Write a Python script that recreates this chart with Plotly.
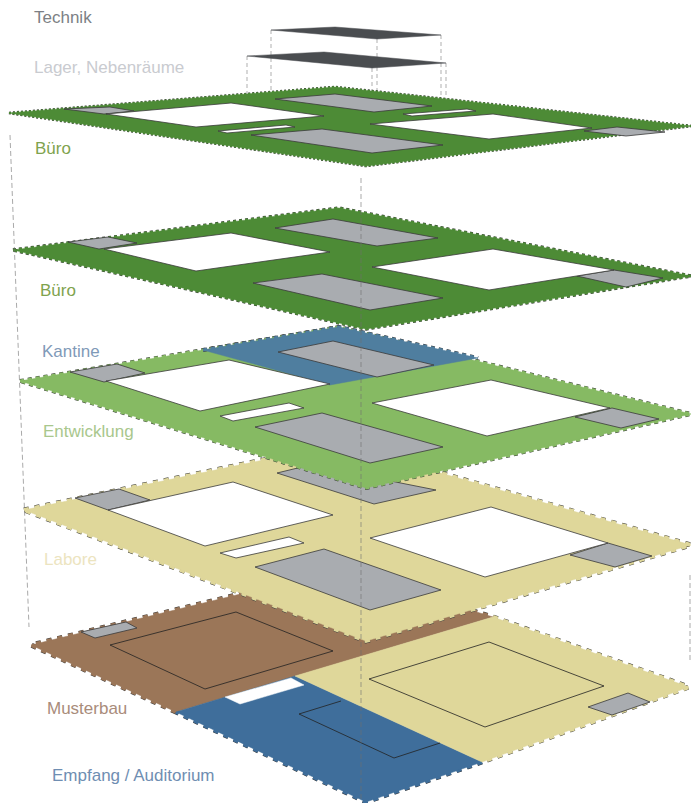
import plotly.graph_objects as go

# ---- text labels ----
LABEL_TEXT = ["Technik", "Lager, Nebenräume", "Büro", "Büro", "Kantine", "Entwicklung", "Labore", "Musterbau", "Empfang / Auditorium"]
LABEL_X = [34, 34, 35, 40, 42, 43, 44, 47, 52]
LABEL_Y = [19, 69, 149.5, 291.5, 352.5, 432.5, 561, 710, 777]
LABEL_COLOR = ["#7c7f85", "#c9cbd0", "#7fa34e", "#7fa34e", "#7f9ab8", "#a9c78d", "#ece4c0", "#a98c7b", "#6f8eb2"]

# ---- plates, from the top ----
TECHNIK_PLATE = [(271, 30), (335, 27), (441, 35), (377, 39)]
LAGER_PLATE = [(247, 56), (324, 52), (446, 63), (372, 68)]

BUERO1_OUTER = [(9, 113), (335, 87), (691, 126), (366, 166)]
BUERO1_WHITE = [
    [(106, 114), (231, 103), (324, 116), (196, 127)],
    [(218, 131), (286, 125), (295, 127), (227, 133)],
    [(403, 114), (467, 109), (476, 111), (412, 116)],
    [(370, 124), (493, 114), (592, 128), (489, 139)],
]
BUERO1_GRAY = [
    [(64, 109), (110, 107), (134, 111), (104, 114)],
    [(275, 99), (335, 94), (432, 106), (374, 112)],
    [(251, 135), (322, 129), (443, 145), (372, 153)],
    [(584, 131), (617, 127), (665, 132), (626, 136)],
]

BUERO2_OUTER = [(13, 250), (339, 208), (691, 276), (366, 329)]
BUERO2_WHITE = [
    [(104, 249), (231, 233), (330, 252), (196, 271)],
    [(372, 267), (493, 249), (614, 270), (489, 290)],
]
BUERO2_GRAY = [
    [(68, 242), (108, 237), (137, 243), (99, 249)],
    [(275, 228), (333, 219), (438, 238), (377, 246)],
    [(253, 283), (322, 274), (443, 298), (370, 310)],
    [(577, 276), (614, 270), (663, 278), (626, 287)],
]

ENTW_OUTER = [(20, 381), (339, 327), (691, 414), (366, 488)]
KANTINE_AREA = [(203, 350), (339, 327), (478, 358), (330, 385)]
KANTINE_EDGE = [(203, 350), (339, 327), (478, 358)]
ENTW_WHITE = [
    [(106, 381), (229, 360), (330, 384), (200, 411)],
    [(220, 416), (289, 403), (304, 408), (233, 421)],
    [(372, 403), (491, 380), (610, 408), (487, 436)],
]
ENTW_GRAY = [
    [(70, 372), (117, 364), (145, 373), (104, 382)],
    [(278, 352), (333, 341), (434, 365), (377, 377)],
    [(255, 427), (322, 413), (443, 447), (370, 463)],
    [(575, 417), (612, 408), (659, 419), (621, 428)],
]

LABORE_OUTER = [(24, 510), (340, 444), (691, 545), (366, 641)]
LABORE_WHITE = [
    [(108, 510), (233, 482), (333, 515), (205, 546)],
    [(220, 553), (289, 537), (304, 543), (236, 558)],
    [(370, 538), (491, 507), (608, 543), (485, 577)],
]
LABORE_GRAY = [
    [(75, 498), (119, 489), (150, 500), (108, 510)],
    [(277, 473), (310, 465), (436, 490), (374, 504)],
    [(255, 567), (324, 549), (441, 590), (370, 610)],
    [(570, 555), (608, 543), (652, 556), (615, 567)],
]

MUSTER_AREA = [(31, 645), (339, 570), (493, 617), (176, 712)]
MUSTER_EDGE = [(176, 712), (31, 645), (339, 570), (493, 617)]
EMPFANG_AREA = [(176, 712), (295, 676), (482, 762), (366, 802)]
EMPFANG_EDGE = [(482, 762), (366, 802), (176, 712)]
GROUND_BEIGE_AREA = [(493, 617), (689, 687), (482, 762), (295, 676)]
GROUND_BEIGE_EDGE = [(493, 617), (689, 687), (482, 762)]
GROUND_WHITE = [(225, 697), (291, 678), (304, 685), (240, 704)]
GROUND_GRAY = [
    [(81, 632), (126, 622), (137, 628), (95, 638)],
    [(588, 707), (628, 693), (650, 702), (612, 715)],
]
GROUND_INNER = [
    [(110, 645), (236, 612), (333, 651), (205, 689), (110, 645)],
    [(369, 679), (489, 642), (604, 686), (485, 727), (369, 679)],
    [(341, 701), (299, 714), (394, 758), (440, 743)],
]

# ---- dashed construction lines ----
GUIDES = [
    [(271, 30), (271, 100)],
    [(377, 39), (377, 112)],
    [(441, 35), (441, 112)],
    [(247, 56), (247, 122)],
    [(446, 63), (446, 136)],
    [(372, 68), (372, 150)],
]
LONG_GUIDES = [
    [(10, 135), (29, 627)],
    [(361, 178), (361, 800)],
    [(690, 575), (690, 663)],
]

GREEN_DARK = "#4d8b36"
GREEN_LIGHT = "#86ba63"
KANTINE_BLUE = "#4f7e9f"
BEIGE = "#dfd79a"
BROWN = "#9b7658"
BLUE = "#3f6e9b"
GRAY = "#a9acb0"
PLATE = "#4a4d50"
EDGE = "#3a3a3a"

fig = go.Figure()


def xs(p):
    return [c[0] for c in p]


def ys(p):
    return [c[1] for c in p]


def closed(p):
    return list(p) + [p[0]]


def poly(p, fill, line=EDGE, width=0.8):
    fig.add_trace(go.Scatter(x=xs(closed(p)), y=ys(closed(p)), mode="lines", fill="toself",
                             fillcolor=fill, line=dict(color=line, width=width), hoverinfo="skip"))


def stroke(p, color, width=0.8, dash="solid"):
    fig.add_trace(go.Scatter(x=xs(p), y=ys(p), mode="lines",
                             line=dict(color=color, width=width, dash=dash), hoverinfo="skip"))


def teeth(p, fill, width, dash):
    stroke(p, EDGE, width + 0.9, dash)
    stroke(p, fill, width, dash)


for g in GUIDES:
    stroke(g, "#8d8d8d", 0.7, "4px,3px")

# ground floor
teeth(MUSTER_EDGE, BROWN, 4, "5px,6px")
teeth(EMPFANG_EDGE, BLUE, 4, "5px,6px")
teeth(GROUND_BEIGE_EDGE, BEIGE, 4, "5px,6px")
poly(MUSTER_AREA, BROWN, BROWN, 0.5)
poly(EMPFANG_AREA, BLUE, BLUE, 0.5)
poly(GROUND_BEIGE_AREA, BEIGE, BEIGE, 0.5)
poly(GROUND_WHITE, "#ffffff", "#ffffff", 0.5)
for p in GROUND_GRAY:
    poly(p, GRAY)
for p in GROUND_INNER:
    stroke(p, "#222222", 0.8)

# Labore
teeth(closed(LABORE_OUTER), BEIGE, 4, "5px,6px")
poly(LABORE_OUTER, BEIGE, BEIGE, 0.5)
for p in LABORE_GRAY:
    poly(p, GRAY)
for p in LABORE_WHITE:
    poly(p, "#ffffff")

# Entwicklung + Kantine
teeth(closed(ENTW_OUTER), GREEN_LIGHT, 3, "4px,4px")
poly(ENTW_OUTER, GREEN_LIGHT, GREEN_LIGHT, 0.5)
teeth(KANTINE_EDGE, KANTINE_BLUE, 3, "4px,4px")
poly(KANTINE_AREA, KANTINE_BLUE, KANTINE_BLUE, 0.5)
for p in ENTW_GRAY:
    poly(p, GRAY)
for p in ENTW_WHITE:
    poly(p, "#ffffff")

# Buero 2
teeth(closed(BUERO2_OUTER), GREEN_DARK, 2.5, "3px,3px")
poly(BUERO2_OUTER, GREEN_DARK, GREEN_DARK, 0.5)
for p in BUERO2_GRAY:
    poly(p, GRAY)
for p in BUERO2_WHITE:
    poly(p, "#ffffff")

# Buero 1
teeth(closed(BUERO1_OUTER), GREEN_DARK, 1.8, "2px,2px")
poly(BUERO1_OUTER, GREEN_DARK, GREEN_DARK, 0.5)
for p in BUERO1_GRAY:
    poly(p, GRAY)
for p in BUERO1_WHITE:
    poly(p, "#ffffff")

# upper plates
poly(LAGER_PLATE, PLATE, PLATE, 0.5)
poly(TECHNIK_PLATE, PLATE, PLATE, 0.5)

# long guides run across the plates
for g in LONG_GUIDES:
    stroke(g, "#6f6f6f", 0.6, "5px,3px")

fig.add_trace(go.Scatter(x=LABEL_X, y=LABEL_Y, mode="text", text=LABEL_TEXT, textposition="middle right",
                         textfont=dict(family="Liberation Sans", size=17, color=LABEL_COLOR), hoverinfo="skip"))

fig.update_layout(width=691, height=803, margin=dict(l=0, r=0, t=0, b=0), showlegend=False,
                  paper_bgcolor="#ffffff", plot_bgcolor="#ffffff",
                  xaxis=dict(range=[0, 691], visible=False, fixedrange=True),
                  yaxis=dict(range=[803, 0], visible=False, fixedrange=True))
fig.write_html("out.html", config={"displayModeBar": False},
               post_script="document.body.style.margin='0';document.body.style.overflow='hidden';")
